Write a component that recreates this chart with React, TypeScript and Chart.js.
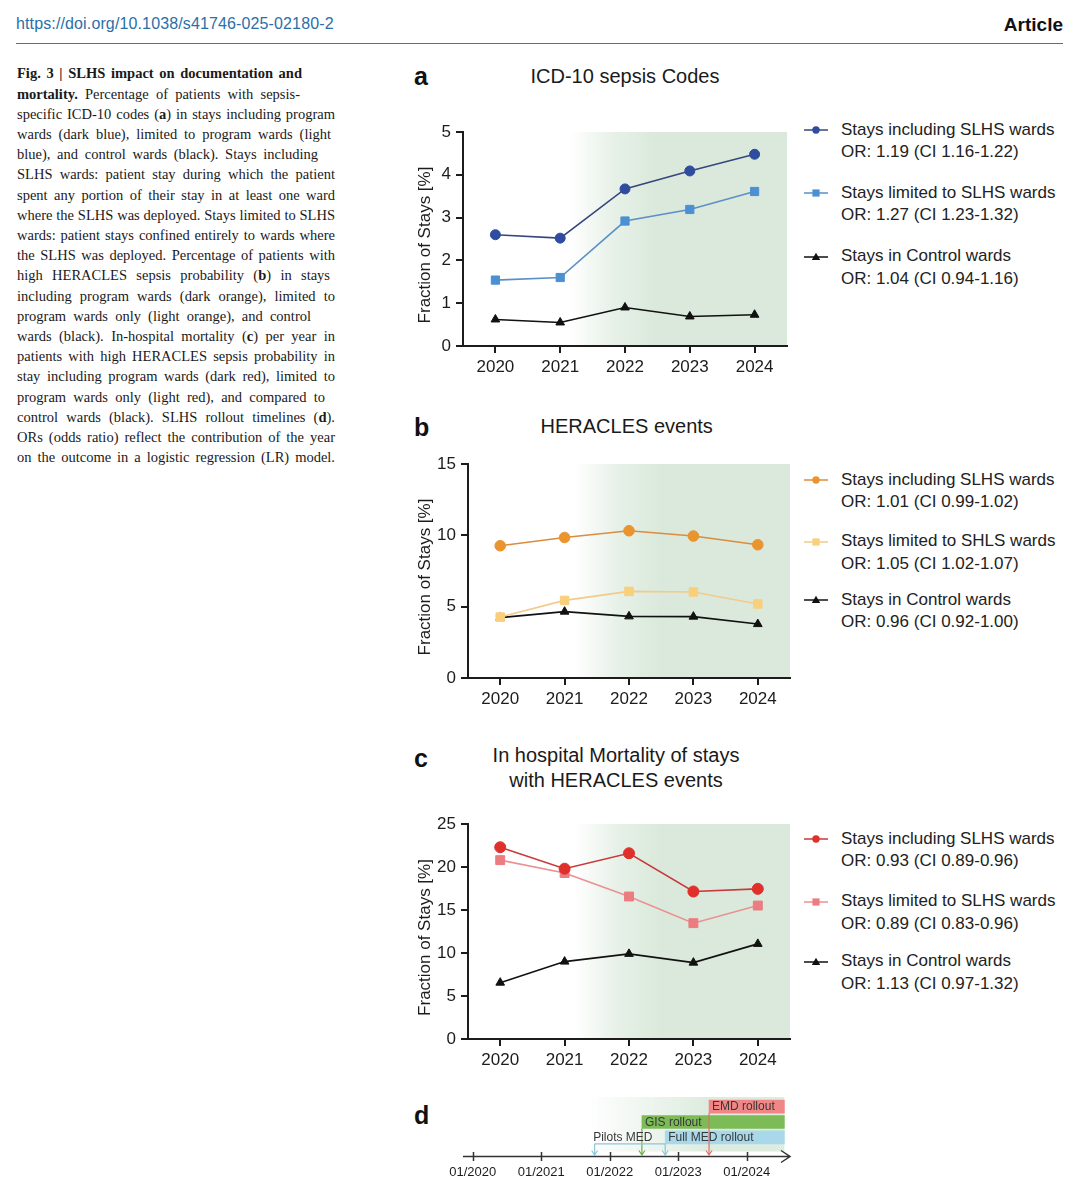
import React, { useEffect, useRef } from 'react';
import { Chart, registerables } from 'chart.js';

Chart.register(...registerables);

const SANS = '"Liberation Sans", Arial, Helvetica, sans-serif';
const SERIF = '"Liberation Serif", "Times New Roman", serif';
const INK = '#1c1c1c';

// Shared x categories for panels a–c
const years = ['2020', '2021', '2022', '2023', '2024'];

// a — sepsis-specific ICD-10 codes (% of stays)
const icdIncluding = [2.6, 2.52, 3.67, 4.09, 4.48];
const icdLimited = [1.54, 1.6, 2.92, 3.19, 3.61];
const icdControl = [0.62, 0.55, 0.9, 0.69, 0.73];

// b — high HERACLES sepsis probability (% of stays)
const herIncluding = [9.27, 9.85, 10.32, 9.95, 9.34];
const herLimited = [4.27, 5.44, 6.07, 6.03, 5.19];
const herControl = [4.23, 4.65, 4.32, 4.3, 3.78];

// c — in-hospital mortality of stays with HERACLES events (%)
const mortIncluding = [22.3, 19.8, 21.6, 17.15, 17.46];
const mortLimited = [20.8, 19.3, 16.57, 13.47, 15.52];
const mortControl = [6.55, 9.0, 9.9, 8.88, 11.06];

const namesA = ['Stays including SLHS wards', 'Stays limited to SLHS wards', 'Stays in Control wards'];
const namesB = ['Stays including SLHS wards', 'Stays limited to SHLS wards', 'Stays in Control wards'];
const namesC = ['Stays including SLHS wards', 'Stays limited to SLHS wards', 'Stays in Control wards'];
const oddsA = ['OR: 1.19 (CI 1.16-1.22)', 'OR: 1.27 (CI 1.23-1.32)', 'OR: 1.04 (CI 0.94-1.16)'];
const oddsB = ['OR: 1.01 (CI 0.99-1.02)', 'OR: 1.05 (CI 1.02-1.07)', 'OR: 0.96 (CI 0.92-1.00)'];
const oddsC = ['OR: 0.93 (CI 0.89-0.96)', 'OR: 0.89 (CI 0.83-0.96)', 'OR: 1.13 (CI 0.97-1.32)'];
const yAxisTitle = 'Fraction of Stays [%]';

// d — rollout timeline, in decimal years
const phaseNames = ['EMD rollout', 'GIS rollout', 'Full MED rollout'];
const phaseStart = [2023.45, 2022.47, 2022.81];
const phaseEnd = [2024.55, 2024.55, 2024.55];
const pilotName = 'Pilots MED';
const pilotStart = 2021.78;
const timelineYears = [2020, 2021, 2022, 2023, 2024];

const phaseColors = ['#f08686', '#7dbb57', '#a8d8ea'];
const arrowColors = ['#e36d6d', '#6eae4a', '#8cc6db'];
const pilotColor = '#8cc6db';

const captionLines = [
  '**Fig. 3 | SLHS impact on documentation and**',
  '**mortality.** Percentage of patients with sepsis-',
  'specific ICD-10 codes (**a**) in stays including program',
  'wards (dark blue), limited to program wards (light',
  'blue), and control wards (black). Stays including',
  'SLHS wards: patient stay during which the patient',
  'spent any portion of their stay in at least one ward',
  'where the SLHS was deployed. Stays limited to SLHS',
  'wards: patient stays confined entirely to wards where',
  'the SLHS was deployed. Percentage of patients with',
  'high HERACLES sepsis probability (**b**) in stays',
  'including program wards (dark orange), limited to',
  'program wards only (light orange), and control',
  'wards (black). In-hospital mortality (**c**) per year in',
  'patients with high HERACLES sepsis probability in',
  'stay including program wards (dark red), limited to',
  'program wards only (light red), and compared to',
  'control wards (black). SLHS rollout timelines (**d**).',
  'ORs (odds ratio) reflect the contribution of the year',
  'on the outcome in a logistic regression (LR) model.',
];
// right edge of each caption line (ragged-right setting)
const captionEnds = [302, 300, 335, 331, 318, 335, 335, 335, 335, 335, 330, 335, 311, 335, 335, 335, 325, 335, 335, 335];

type Shape = 'circle' | 'rect' | 'triangle';
interface Series {
  name: string;
  odds: string;
  values: number[];
  line: string;
  fill: string;
  shape: Shape;
  radius: number;
}
interface Frame {
  cl: number;
  ct: number;
  cw: number;
  ch: number;
  left: number;
  right: number;
  top: number;
  bottom: number;
}

const X_AXIS_H = 36;

function makeShade(from: number, to: number) {
  return {
    id: 'programShade',
    beforeDraw(chart: any) {
      const { ctx, chartArea: a } = chart;
      const g = ctx.createLinearGradient(a.left + a.width * from, 0, a.left + a.width * to, 0);
      g.addColorStop(0, 'rgba(218,233,219,0)');
      g.addColorStop(0.5, 'rgba(218,233,219,0.65)');
      g.addColorStop(1, 'rgba(218,233,219,1)');
      ctx.save();
      ctx.fillStyle = g;
      ctx.fillRect(a.left, a.top, a.width, a.height);
      ctx.restore();
    },
  };
}

// vertical axis title, sitting a little below the middle of the axis
const axisTitlePlugin = {
  id: 'axisTitle',
  afterDraw(chart: any) {
    const { ctx, chartArea: a } = chart;
    ctx.save();
    ctx.translate(25.2, (a.top + a.bottom) / 2 + 6);
    ctx.rotate(-Math.PI / 2);
    ctx.font = `17px ${SANS}`;
    ctx.fillStyle = INK;
    ctx.textAlign = 'center';
    ctx.textBaseline = 'middle';
    ctx.fillText(yAxisTitle, 0, 0);
    ctx.restore();
  },
};

function LinePanel({ frame, yMax, yStep, series }: { frame: Frame; yMax: number; yStep: number; series: Series[] }) {
  const ref = useRef<HTMLCanvasElement | null>(null);
  useEffect(() => {
    const canvas = ref.current;
    if (!canvas) return;
    const chart = new Chart(canvas, {
      type: 'line',
      data: {
        labels: years,
        datasets: series.map((s) => ({
          label: s.name,
          data: s.values,
          borderColor: s.line,
          backgroundColor: s.fill,
          borderWidth: 1.6,
          pointStyle: s.shape,
          pointRadius: s.radius,
          pointHoverRadius: s.radius,
          pointBackgroundColor: s.fill,
          pointBorderColor: s.fill,
          pointBorderWidth: 1,
          tension: 0,
          fill: false,
          clip: false as any,
        })),
      },
      options: {
        responsive: false,
        animation: false,
        devicePixelRatio: 1,
        events: [],
        layout: {
          padding: {
            top: frame.top - frame.ct,
            left: 0,
            right: frame.cl + frame.cw - frame.right,
            bottom: frame.ct + frame.ch - frame.bottom - X_AXIS_H,
          },
        },
        plugins: { legend: { display: false }, tooltip: { enabled: false }, title: { display: false } },
        scales: {
          x: {
            type: 'category',
            offset: true,
            grid: { display: true, drawOnChartArea: false, drawTicks: true, tickLength: 7, color: INK, lineWidth: 2 },
            border: { display: true, color: INK, width: 2 },
            ticks: { color: INK, font: { family: SANS, size: 17 }, padding: 4, maxRotation: 0, autoSkip: false },
            afterFit: (s: any) => {
              s.height = X_AXIS_H;
            },
          },
          y: {
            type: 'linear',
            min: 0,
            max: yMax,
            grid: { display: true, drawOnChartArea: false, drawTicks: true, tickLength: 7, color: INK, lineWidth: 2 },
            border: { display: true, color: INK, width: 2 },
            ticks: { stepSize: yStep, color: INK, font: { family: SANS, size: 17 }, padding: 5 },
            afterFit: (s: any) => {
              s.width = frame.left - frame.cl;
            },
          },
        },
      },
      plugins: [makeShade(0.33, 0.6), axisTitlePlugin],
    });
    return () => chart.destroy();
  }, []);
  return (
    <canvas
      ref={ref}
      width={frame.cw}
      height={frame.ch}
      style={{ position: 'absolute', left: frame.cl, top: frame.ct, width: frame.cw, height: frame.ch }}
    />
  );
}

function Marker({ shape, color }: { shape: Shape; color: string }) {
  if (shape === 'circle') return <circle cx={12} cy={7} r={3.7} fill={color} />;
  if (shape === 'rect') return <rect x={8.4} y={3.4} width={7.2} height={7.2} fill={color} />;
  return <polygon points="12,2.8 16.2,10 7.8,10" fill={color} />;
}

function Legend({ series, centers }: { series: Series[]; centers: number[] }) {
  const LH = 22.7;
  return (
    <>
      {series.map((s, i) => (
        <React.Fragment key={i}>
          <svg width={26} height={14} style={{ position: 'absolute', left: 804, top: centers[i] - 7 }}>
            <line x1={0} y1={7} x2={24} y2={7} stroke={s.line} strokeWidth={1.5} />
            <Marker shape={s.shape} color={s.fill} />
          </svg>
          <div
            style={{
              position: 'absolute',
              left: 841,
              top: centers[i] - LH / 2,
              fontSize: 17,
              lineHeight: `${LH}px`,
              whiteSpace: 'nowrap',
              color: '#222',
            }}
          >
            <div>{s.name}</div>
            <div>{s.odds}</div>
          </div>
        </React.Fragment>
      ))}
    </>
  );
}

const timelinePlugin = {
  id: 'rolloutTimeline',
  beforeDraw(chart: any) {
    const { ctx, chartArea: a, scales } = chart;
    const x = scales.x;
    const axisY = a.bottom + 11.5;
    const x0 = x.getPixelForValue(pilotStart);
    const x1 = x.getPixelForValue(Math.max(...phaseEnd));
    const g = ctx.createLinearGradient(x0 - 8, 0, x0 + 110, 0);
    g.addColorStop(0, 'rgba(222,236,223,0)');
    g.addColorStop(1, 'rgba(222,236,223,1)');
    ctx.save();
    ctx.fillStyle = g;
    ctx.fillRect(x0 - 8, a.top - 2, x1 - x0 + 8, axisY - a.top - 3);
    ctx.restore();
  },
  afterDatasetsDraw(chart: any) {
    const { ctx, chartArea: a, scales } = chart;
    const x = scales.x;
    const axisY = a.bottom + 11.5;
    const meta = chart.getDatasetMeta(0);
    ctx.save();

    const arrow = (px: number, fromY: number, color: string) => {
      ctx.strokeStyle = color;
      ctx.lineWidth = 1.2;
      ctx.beginPath();
      ctx.moveTo(px, fromY);
      ctx.lineTo(px, axisY - 1.5);
      ctx.moveTo(px - 3, axisY - 6);
      ctx.lineTo(px, axisY - 1.5);
      ctx.lineTo(px + 3, axisY - 6);
      ctx.stroke();
    };

    // phase start markers
    meta.data.forEach((bar: any, i: number) => {
      const start = Math.min(bar.x, bar.base);
      arrow(start, bar.y + bar.height / 2, arrowColors[i]);
    });

    // pilot marker joined to the full rollout
    const full = meta.data[2];
    const fullStart = Math.min(full.x, full.base);
    const pilotX = x.getPixelForValue(pilotStart);
    const lineY = full.y + full.height / 2;
    ctx.strokeStyle = pilotColor;
    ctx.lineWidth = 1.2;
    ctx.beginPath();
    ctx.moveTo(pilotX, lineY);
    ctx.lineTo(fullStart, lineY);
    ctx.stroke();
    arrow(pilotX, lineY, pilotColor);

    // text on the bars
    ctx.font = `12px ${SANS}`;
    ctx.textBaseline = 'middle';
    ctx.textAlign = 'left';
    ctx.fillStyle = '#383838';
    meta.data.forEach((bar: any, i: number) => {
      const start = Math.min(bar.x, bar.base);
      ctx.fillText(phaseNames[i], start + 3, bar.y + 0.5);
    });
    ctx.fillText(pilotName, pilotX - 1.5, full.y + 0.5);

    // time axis with arrow head and crossing ticks
    ctx.strokeStyle = '#333';
    ctx.lineWidth = 1.5;
    ctx.beginPath();
    ctx.moveTo(a.left, axisY);
    ctx.lineTo(a.right, axisY);
    ctx.moveTo(a.right - 9, axisY - 6);
    ctx.lineTo(a.right, axisY);
    ctx.lineTo(a.right - 9, axisY + 6);
    ctx.stroke();
    ctx.beginPath();
    timelineYears.forEach((v) => {
      const px = Math.round(x.getPixelForValue(v)) + 0.5;
      ctx.moveTo(px, axisY - 4.5);
      ctx.lineTo(px, axisY + 4.5);
    });
    ctx.stroke();

    // date labels under the axis
    ctx.font = `13px ${SANS}`;
    ctx.textAlign = 'center';
    ctx.fillStyle = INK;
    timelineYears.forEach((v) => {
      ctx.fillText(`01/${v}`, x.getPixelForValue(v), axisY + 15.5);
    });
    ctx.restore();
  },
};

function TimelinePanel() {
  const ref = useRef<HTMLCanvasElement | null>(null);
  useEffect(() => {
    const canvas = ref.current;
    if (!canvas) return;
    const chart = new Chart(canvas, {
      type: 'bar',
      data: {
        labels: phaseNames,
        datasets: [
          {
            data: phaseNames.map((_, i) => [phaseStart[i], phaseEnd[i]]) as any,
            backgroundColor: phaseColors,
            borderWidth: 0,
            barThickness: 13,
            borderSkipped: false,
          },
        ],
      },
      options: {
        indexAxis: 'y',
        responsive: false,
        animation: false,
        devicePixelRatio: 1,
        events: [],
        layout: { padding: { top: 9, left: 23, right: 10, bottom: 5 } },
        plugins: { legend: { display: false }, tooltip: { enabled: false } },
        scales: {
          x: {
            type: 'linear',
            min: 2019.858,
            max: 2024.632,
            grid: { display: false, drawTicks: false },
            border: { display: false },
            afterBuildTicks: (s: any) => {
              s.ticks = timelineYears.map((v) => ({ value: v }));
            },
            ticks: { display: false },
            afterFit: (s: any) => {
              s.height = 36;
            },
          },
          y: { display: false },
        },
      },
      plugins: [timelinePlugin],
    });
    return () => chart.destroy();
  }, []);
  return (
    <canvas
      ref={ref}
      width={360}
      height={96}
      style={{ position: 'absolute', left: 440, top: 1090, width: 360, height: 96 }}
    />
  );
}

function CaptionLine({ text, top, end }: { text: string; top: number; end: number }) {
  const parts = text.split('**');
  return (
    <div
      style={{
        position: 'absolute',
        left: 17,
        top,
        width: end - 17,
        fontFamily: SERIF,
        fontSize: 14.5,
        lineHeight: '20px',
        whiteSpace: 'nowrap',
        textAlign: 'justify',
        textAlignLast: 'justify',
        color: '#1a1a1a',
      }}
    >
      {parts.map((p, i) => (i % 2 === 1 ? <b key={i}>{p}</b> : <span key={i}>{p}</span>))}
    </div>
  );
}

function build(names: string[], odds: string[], values: number[][], lines: string[], fills: string[], radii: number[]): Series[] {
  const shapes: Shape[] = ['circle', 'rect', 'triangle'];
  return names.map((n, i) => ({
    name: n,
    odds: odds[i],
    values: values[i],
    line: lines[i],
    fill: fills[i],
    shape: shapes[i],
    radius: radii[i],
  }));
}

const seriesA = build(
  namesA,
  oddsA,
  [icdIncluding, icdLimited, icdControl],
  ['#36477c', '#5a90c6', '#111111'],
  ['#2f4c9f', '#4a90d2', '#111111'],
  [5, 5.8, 5]
);
const seriesB = build(
  namesB,
  oddsB,
  [herIncluding, herLimited, herControl],
  ['#db8c3c', '#f2cb8a', '#111111'],
  ['#ea942f', '#f9cf7c', '#111111'],
  [5.3, 6, 5]
);
const seriesC = build(
  namesC,
  oddsC,
  [mortIncluding, mortLimited, mortControl],
  ['#c8393a', '#e99194', '#111111'],
  ['#e0302b', '#ec7c80', '#111111'],
  [5.5, 6.3, 5]
);

const frameA: Frame = { cl: 400, ct: 100, cw: 400, ch: 290, left: 463, right: 787, top: 132, bottom: 346 };
const frameB: Frame = { cl: 400, ct: 440, cw: 400, ch: 290, left: 468, right: 790, top: 464, bottom: 678 };
const frameC: Frame = { cl: 400, ct: 800, cw: 400, ch: 290, left: 468, right: 790, top: 824, bottom: 1039 };

const letterStyle = (left: number, top: number): React.CSSProperties => ({
  position: 'absolute',
  left,
  top,
  fontSize: 25,
  fontWeight: 700,
  lineHeight: '28px',
  color: '#111',
});

const titleStyle = (cx: number, top: number): React.CSSProperties => ({
  position: 'absolute',
  left: cx - 200,
  width: 400,
  top,
  textAlign: 'center',
  fontSize: 20,
  lineHeight: '25px',
  color: '#1a1a1a',
  whiteSpace: 'nowrap',
});

export default function App() {
  return (
    <div
      style={{
        position: 'absolute',
        left: 0,
        top: 0,
        width: 1080,
        height: 1186,
        background: '#ffffff',
        overflow: 'hidden',
        fontFamily: SANS,
        color: INK,
      }}
    >
      <div
        style={{
          position: 'absolute',
          left: 16,
          top: 14,
          fontSize: 16,
          letterSpacing: 0.13,
          lineHeight: '20px',
          color: '#2a6fa8',
          whiteSpace: 'nowrap',
        }}
      >
        https://doi.org/10.1038/s41746-025-02180-2
      </div>
      <div style={{ position: 'absolute', right: 17, top: 12.5, fontSize: 19, fontWeight: 700, lineHeight: '24px', color: '#111' }}>
        Article
      </div>
      <div style={{ position: 'absolute', left: 16, top: 43, width: 1047, height: 1, background: '#6a6a6a' }} />

      {captionLines.map((t, i) => (
        <CaptionLine key={i} text={t} top={63.3 + i * 20.2} end={captionEnds[i]} />
      ))}

      <div style={letterStyle(414, 62)}>a</div>
      <div style={titleStyle(625, 64.2)}>ICD-10 sepsis Codes</div>
      <LinePanel frame={frameA} yMax={5} yStep={1} series={seriesA} />
      <Legend series={seriesA} centers={[130, 193, 256.7]} />

      <div style={letterStyle(414, 412.7)}>b</div>
      <div style={titleStyle(626.7, 414.2)}>HERACLES events</div>
      <LinePanel frame={frameB} yMax={15} yStep={5} series={seriesB} />
      <Legend series={seriesB} centers={[480, 541.7, 600]} />

      <div style={letterStyle(414, 744)}>c</div>
      <div style={titleStyle(616, 742.5)}>
        In hospital Mortality of stays
        <br />
        with HERACLES events
      </div>
      <LinePanel frame={frameC} yMax={25} yStep={5} series={seriesC} />
      <Legend series={seriesC} centers={[839, 901.7, 961.7]} />

      <div style={letterStyle(414, 1101)}>d</div>
      <TimelinePanel />
    </div>
  );
}
